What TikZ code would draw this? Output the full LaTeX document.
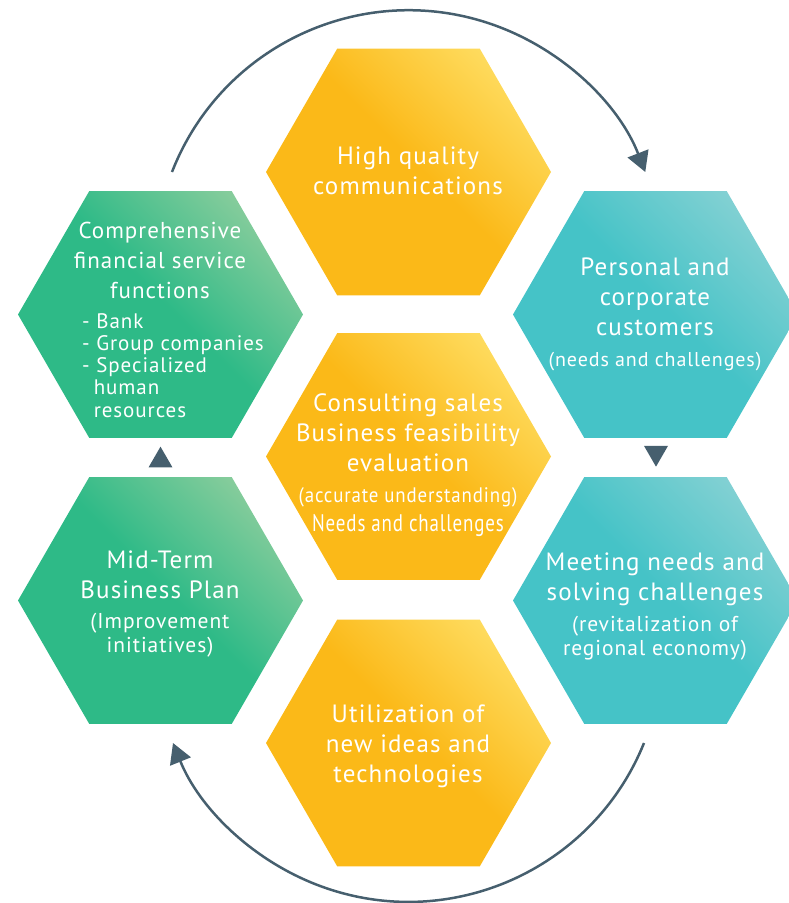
\documentclass[tikz,border=0pt]{standalone}
\usepackage{fontspec}
\setmainfont{PT Sans}[LetterSpace=4.5]
\usepackage{graphicx}
\usetikzlibrary{shapes.geometric,arrows.meta,calc}
\definecolor{or1}{HTML}{FBB918}
\definecolor{or2}{HTML}{FFE470}
\definecolor{gr1}{HTML}{2EBA87}
\definecolor{gr2}{HTML}{9DD1A1}
\definecolor{tl1}{HTML}{45C3C7}
\definecolor{tl2}{HTML}{92D4D6}
\definecolor{arrowc}{HTML}{465F6E}
\pgfdeclarehorizontalshading{shorange}{100bp}{color(0bp)=(or1); color(52bp)=(or1); color(82bp)=(or2); color(100bp)=(or2)}
\pgfdeclarehorizontalshading{shgreen}{100bp}{color(0bp)=(gr1); color(52bp)=(gr1); color(82bp)=(gr2); color(100bp)=(gr2)}
\pgfdeclarehorizontalshading{shteal}{100bp}{color(0bp)=(tl1); color(52bp)=(tl1); color(82bp)=(tl2); color(100bp)=(tl2)}
\tikzset{
  hex/.style={regular polygon, regular polygon sides=6, minimum size=285pt, inner sep=0pt, draw=none, shading angle=45},
  orhex/.style={hex, shading=shorange},
  grhex/.style={hex, shading=shgreen},
  tlhex/.style={hex, shading=shteal},
  maintext/.style={text=white, align=center, inner sep=0pt, font=\fontsize{25}{30}\selectfont},
  lttext/.style={text=white, align=center, inner sep=0pt, font=\fontsize{23}{30}\selectfont},
  listtext/.style={text=white, align=left, inner sep=0pt, font=\fontsize{21}{22.3}\selectfont},
  arcline/.style={draw=arrowc, line width=2.5pt, -{Triangle[length=20pt,width=22pt]}},
  tri/.style={regular polygon, regular polygon sides=3, minimum size=27.7pt, inner sep=0pt, fill=arrowc},
}
\newcommand{\subf}{\fontsize{21.5}{24}\selectfont}
\newcommand{\subs}{\fontsize{20}{24}\selectfont}
\begin{document}
\begin{tikzpicture}[x=1pt,y=-1pt]
\useasboundingbox (0,0) rectangle (788,903);
% hexagons
\node[orhex] (hTop) at (408.5,172) {};
\node[orhex] (hMid) at (408.5,456.5) {};
\node[orhex] (hBot) at (408.5,743) {};
\node[grhex] (hLT) at (160.5,314.5) {};
\node[grhex] (hLB) at (160.5,600.5) {};
\node[tlhex] (hRT) at (655.5,314.5) {};
\node[tlhex] (hRB) at (655.5,600.5) {};
% texts
\node[maintext] (tTop) at (408,171) {High quality\\communications};
\node[lttext] (tLT) at (160,260) {Comprehensive\\financial service\\functions};
\node[listtext, anchor=north west] (tLTl) at (82,313) {- Bank\\- Group companies\\- Specialized\\\hspace*{0.55em}human\\\hspace*{0.55em}resources};
\node[maintext] (tRT) at (655,314) {Personal and\\corporate\\customers\\[1pt]{\subs (needs and challenges)}};
\node[maintext] (tMid) at (408,465) {Consulting sales\\Business feasibility\\evaluation\\[1pt]{\fontsize{21}{24}\selectfont\scalebox{0.9}[1]{(accurate understanding)}}\\[-1pt]{\fontsize{24}{30}\selectfont\scalebox{0.79}[1]{Needs and challenges}}};
\node[maintext] (tLB) at (160,604) {Mid-Term\\Business Plan\\[0pt]{\subf (Improvement}\\[-6pt]{\subf initiatives)}};
\node[maintext] (tRB) at (655,607) {Meeting needs and\\solving challenges\\[1pt]{\subf (revitalization of}\\[-6pt]{\subf regional economy)}};
\node[maintext] (tBot) at (408,746.5) {Utilization of\\new ideas and\\technologies};
% small triangles
\node[tri] (triL) at (160.5,460.5) {};
\node[tri, shape border rotate=180] (triR) at (656,452.8) {};
% arcs
\coordinate (arcTs) at ($(hLT.center)+(11.5,-142.5)$);
\coordinate (arcBs) at ($(hRB.center)+(-11.5,142.5)$);
\draw[arcline] (arcTs) arc[start angle=-158.7, end angle=-21.3, radius=254];
\draw[arcline] (arcBs) arc[start angle=22, end angle=158, radius=254];
\end{tikzpicture}
\end{document}
